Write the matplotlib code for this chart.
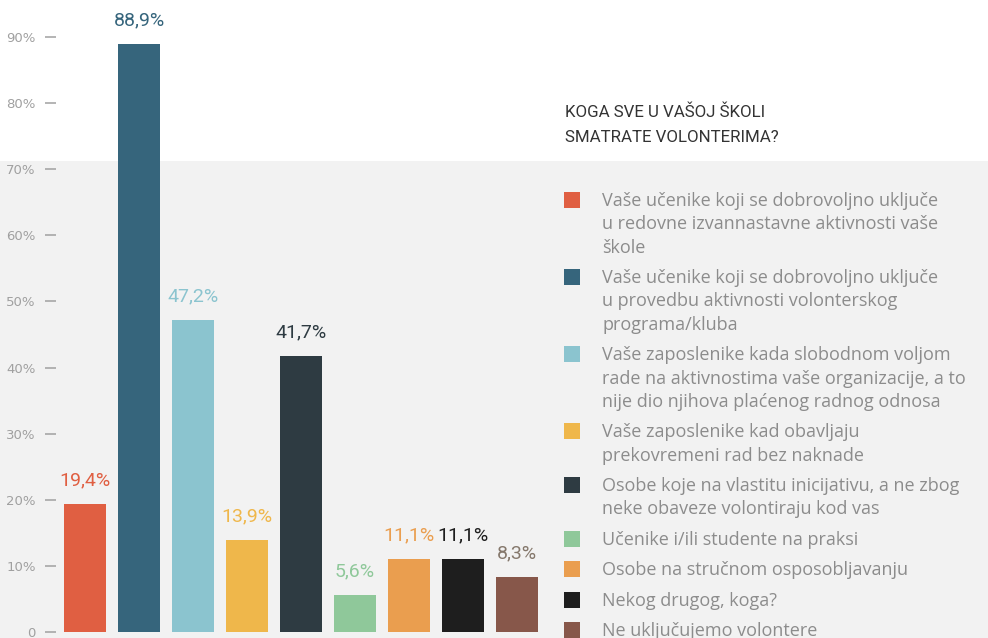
import matplotlib.pyplot as plt
from matplotlib.patches import Rectangle

# data
categories = [
    "Vaše učenike koji se dobrovoljno uključe\nu redovne izvannastavne aktivnosti vaše\nškole",
    "Vaše učenike koji se dobrovoljno uključe\nu provedbu aktivnosti volonterskog\nprograma/kluba",
    "Vaše zaposlenike kada slobodnom voljom\nrade na aktivnostima vaše organizacije, a to\nnije dio njihova plaćenog radnog odnosa",
    "Vaše zaposlenike kad obavljaju\nprekovremeni rad bez naknade",
    "Osobe koje na vlastitu inicijativu, a ne zbog\nneke obaveze volontiraju kod vas",
    "Učenike i/ili studente na praksi",
    "Osobe na stručnom osposobljavanju",
    "Nekog drugog, koga?",
    "Ne uključujemo volontere",
]
values = [19.4, 88.9, 47.2, 13.9, 41.7, 5.6, 11.1, 11.1, 8.3]
colors = ["#E05F42", "#36657C", "#8BC4CF", "#EFB74B", "#2E3B42",
          "#8FC89A", "#EA9E4F", "#1E1E1E", "#87574A"]
label_colors = ["#E05F42", "#36657C", "#8BC4CF", "#EFB74B", "#2E3B42",
                "#8FC89A", "#EA9E4F", "#1E1E1E", "#85786C"]
yticks = [0, 10, 20, 30, 40, 50, 60, 70, 80, 90]
ytick_labels = ["0", "10%", "20%", "30%", "40%", "50%", "60%", "70%", "80%", "90%"]
title = "KOGA SVE U VAŠOJ ŠKOLI\nSMATRATE VOLONTERIMA?"

W, H = 988, 638
fig = plt.figure(figsize=(W / 100, H / 100), dpi=100)

# overlay in pixel coordinates for background, title and legend
ov = fig.add_axes([0, 0, 1, 1], zorder=0)
ov.set_xlim(0, W)
ov.set_ylim(H, 0)
ov.axis("off")
ov.add_patch(Rectangle((0, 161), W, H - 161, color="#F2F2F2", lw=0))

# main bar axes
left, right, top, bottom = 56, 545, 37, 632
ax = fig.add_axes([left / W, (H - bottom) / H, (right - left) / W, (bottom - top) / H], zorder=1)
ax.patch.set_alpha(0)
x = list(range(len(values)))
ax.bar(x, values, width=42 / 54, color=colors)
ax.set_xlim((left - 85) / 54, (right - 85) / 54)
ax.set_ylim(0, 90)
for s in ax.spines.values():
    s.set_visible(False)
ax.set_xticks([])
ax.set_yticks(yticks)
ax.set_yticklabels(ytick_labels, fontsize=9.5, color="#A0A0A0")
ax.tick_params(axis="y", length=8, width=1.1, color="#A0A0A0", pad=6.5)

for i, v in enumerate(values):
    ax.annotate(f"{v:.1f}".replace(".", ",") + "%", (i, v), xytext=(0, 13.3),
                textcoords="offset points", ha="center", va="baseline",
                fontsize=14, family="Roboto", color=label_colors[i],
                annotation_clip=False)

# title
for k, line in enumerate(title.split("\n")):
    ov.text(565, 117 + k * 24.5, line, fontsize=12.2, family="Roboto",
            color="#333333", va="baseline", ha="left")

# legend
y = 200
for lab, c in zip(categories, colors):
    ov.add_patch(Rectangle((564, y - 8), 16, 16, color=c, lw=0))
    lines = lab.split("\n")
    for k, line in enumerate(lines):
        ov.text(602, y + 6 + k * 23.3, line, fontsize=13, family="Open Sans",
                color="#8C8C8C", va="baseline", ha="left")
    y += (len(lines) - 1) * 23.3 + 30.5

fig.savefig("out.png", dpi=100)
